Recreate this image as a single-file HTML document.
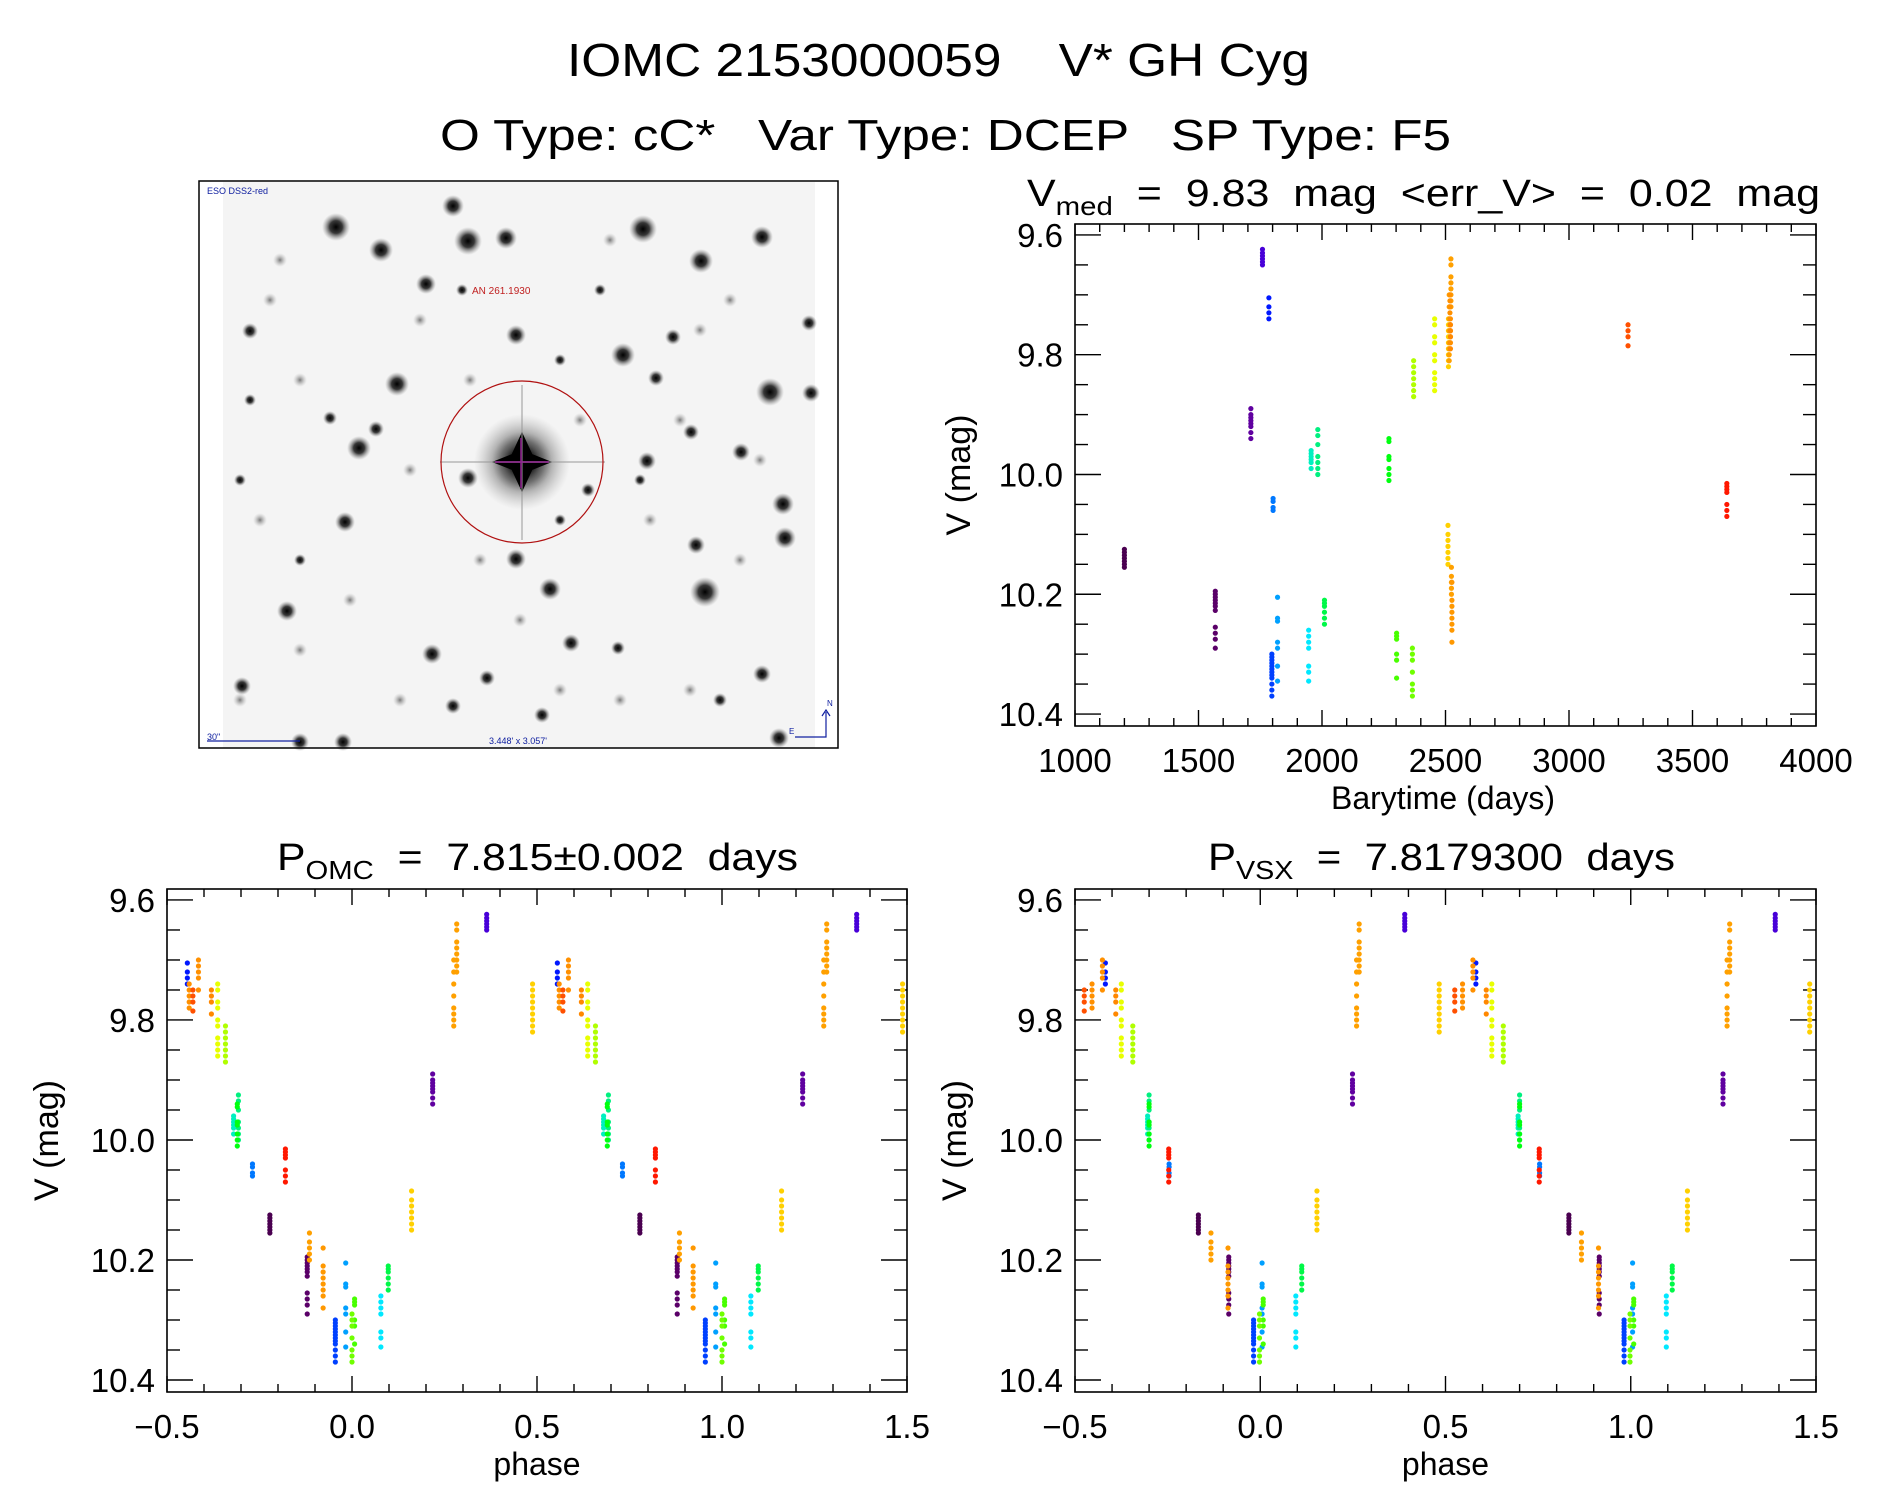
<!DOCTYPE html>
<html><head><meta charset="utf-8"><style>
html,body{margin:0;padding:0;background:#fff;}
svg{display:block;font-family:"Liberation Sans",sans-serif;}
text{white-space:pre;}
</style></head><body>
<svg id="fig" width="1889" height="1494" viewBox="0 0 1889 1494" xmlns="http://www.w3.org/2000/svg" xml:space="preserve">
<defs>
<radialGradient id="sg"><stop offset="0" stop-color="#000"/><stop offset="0.45" stop-color="#222" stop-opacity="0.9"/><stop offset="1" stop-color="#888" stop-opacity="0"/></radialGradient>
<radialGradient id="fg"><stop offset="0" stop-color="#777"/><stop offset="1" stop-color="#bbb" stop-opacity="0"/></radialGradient>
</defs>
<rect width="1889" height="1494" fill="#fff"/>
<text x="567" y="76" font-size="46" textLength="743" lengthAdjust="spacingAndGlyphs">IOMC 2153000059    V* GH Cyg</text>
<text x="440" y="150" font-size="44" textLength="1011" lengthAdjust="spacingAndGlyphs">O Type: cC*   Var Type: DCEP   SP Type: F5</text>

<g>
<rect x="223" y="182" width="592" height="566" fill="#f4f4f4"/>
<g id="stars"></g>
<rect x="199" y="181" width="639" height="567" fill="none" stroke="#000" stroke-width="1.5"/>
<ellipse cx="522" cy="462" rx="81" ry="81" fill="none" stroke="#b01010" stroke-width="1.2"/>
<line x1="495" y1="462" x2="549" y2="462" stroke="#902090" stroke-width="1.5"/>
<line x1="521" y1="438" x2="521" y2="488" stroke="#902090" stroke-width="1.5"/>
<text x="207" y="194" font-size="9" fill="#1020a0">ESO DSS2-red</text>
<text x="472" y="294" font-size="10" fill="#c02020">AN 261.1930</text>
<text x="207" y="740" font-size="9" fill="#1020a0">30"</text>
<line x1="207" y1="741" x2="300" y2="741" stroke="#1020a0" stroke-width="1.2"/>
<text x="489" y="744" font-size="9" fill="#1020a0">3.448' x 3.057'</text>
<path d="M795 737 H826 V712 M822 716 L826 710 L830 716" fill="none" stroke="#1020a0" stroke-width="1.2"/>
<text x="827" y="706" font-size="8" fill="#1020a0">N</text>
<text x="789" y="734" font-size="8" fill="#1020a0">E</text>
</g>

<g id="p1"></g>
<g id="p2"></g>
<g id="p3"></g>

<text x="1027" y="206" font-size="38" textLength="793" lengthAdjust="spacingAndGlyphs">V<tspan font-size="26" dy="9">med</tspan><tspan dy="-9">  =  9.83  mag  &lt;err_V&gt;  =  0.02  mag</tspan></text>
<text x="277" y="870" font-size="38" textLength="521" lengthAdjust="spacingAndGlyphs">P<tspan font-size="26" dy="9">OMC</tspan><tspan dy="-9">  =  7.815±0.002  days</tspan></text>
<text x="1208" y="870" font-size="38" textLength="467" lengthAdjust="spacingAndGlyphs">P<tspan font-size="26" dy="9">VSX</tspan><tspan dy="-9">  =  7.8179300  days</tspan></text>
</svg>
<script>
// ---------- data ----------
const groupTime   = [1200,1568,1712,1759,1785,1802,1797,1820,1946,1956,1983,2010,2271,2302,2366,2371,2456,2510,2512,2515,2522,2524,2526,2520,2518,2520,3239,3639];
const groupPhaseOMC = [-0.222,-0.121,0.218,0.364,-0.445,-0.269,-0.045,-0.017,0.078,-0.32,-0.307,0.098,-0.31,0.007,0.0,-0.342,-0.363,0.161,0.488,0.275,0.283,-0.115,-0.078,-0.44,-0.415,-0.38,-0.43,-0.18];
const groupPhaseVSX = [-0.167,-0.085,0.249,0.39,-0.418,-0.246,-0.018,0.005,0.096,-0.304,-0.3,0.112,-0.3,0.008,-0.002,-0.344,-0.375,0.153,0.483,0.26,0.267,-0.133,-0.087,-0.454,-0.426,-0.39,-0.475,-0.247];
const groupColor = ["#4a0050","#5a0068","#6000a0","#4800d8","#0018ff","#0078ff","#0040ff","#00a0ff","#00e8ff","#00f0c0","#00f080","#00f848","#00ff10","#48ff00","#70ff00","#b0ff00","#e8ff00","#ffd000","#ffd000","#ffa000","#ffa000","#ffa000","#ff9800","#ff9000","#ff9000","#ff8800","#ff5000","#ff1800"];
const groupMags = [
 [10.125,10.13,10.135,10.14,10.145,10.15,10.155],
 [10.195,10.2,10.205,10.21,10.215,10.22,10.227,10.255,10.265,10.275,10.29],
 [9.89,9.9,9.905,9.91,9.915,9.92,9.93,9.94],
 [9.624,9.63,9.635,9.64,9.645,9.65],
 [9.705,9.72,9.73,9.74],
 [10.04,10.045,10.055,10.06],
 [10.30,10.305,10.31,10.315,10.32,10.325,10.33,10.335,10.34,10.35,10.36,10.37],
 [10.205,10.24,10.245,10.28,10.29,10.32,10.345],
 [10.26,10.27,10.28,10.29,10.32,10.33,10.345],
 [9.96,9.965,9.97,9.975,9.98,9.99],
 [9.925,9.935,9.95,9.97,9.98,9.99,10.0],
 [10.21,10.215,10.22,10.23,10.24,10.25],
 [9.94,9.945,9.97,9.975,9.99,10.0,10.01],
 [10.265,10.27,10.275,10.3,10.31,10.34],
 [10.29,10.3,10.31,10.33,10.35,10.36,10.37],
 [9.81,9.82,9.83,9.84,9.85,9.86,9.87],
 [9.74,9.75,9.77,9.78,9.8,9.81,9.83,9.84,9.85,9.86],
 [10.085,10.1,10.11,10.12,10.13,10.14,10.15],
 [9.74,9.75,9.76,9.77,9.78,9.79,9.8,9.81,9.82],
 [9.7,9.72,9.74,9.76,9.78,9.79,9.8,9.81],
 [9.64,9.65,9.67,9.68,9.69,9.70,9.71,9.72],
 [10.155,10.17,10.18,10.19,10.2],
 [10.18,10.21,10.22,10.23,10.24,10.25,10.26,10.28],
 [9.74,9.75,9.76,9.77,9.78],
 [9.7,9.71,9.72,9.73,9.75],
 [9.75,9.76,9.77,9.79],
 [9.75,9.76,9.77,9.785],
 [10.015,10.02,10.025,10.03,10.05,10.06,10.07]
];
const magTicks = [9.6,9.8,10.0,10.2,10.4];
const magTickLabels = ["9.6","9.8","10.0","10.2","10.4"];
const timeTicks = [1000,1500,2000,2500,3000,3500,4000];
const timeTickLabels = ["1000","1500","2000","2500","3000","3500","4000"];
const phaseTicks = [-0.5,0,0.5,1,1.5];
const phaseTickLabels = ["\u22120.5","0.0","0.5","1.0","1.5"];

const NS="http://www.w3.org/2000/svg";
function mk(parent,tag,attrs){const e=document.createElementNS(NS,tag);for(const k in attrs)e.setAttribute(k,attrs[k]);parent.appendChild(e);return e;}

// star field
const stars=[[336,227,14],[468,241,14],[506,238,11],[381,250,12],[453,206,11],[643,229,14],[762,237,11],[701,261,12],[426,284,10],[516,335,10],[623,355,12],[397,384,12],[770,392,14],[811,393,9],[359,448,12],[376,429,8],[468,478,10],[647,461,9],[741,452,9],[783,504,11],[785,538,11],[345,522,10],[516,559,10],[550,589,11],[705,592,15],[696,545,9],[287,611,10],[432,654,10],[571,643,9],[762,674,9],[242,686,9],[453,706,8],[487,678,8],[542,715,8],[300,742,9],[343,742,9],[779,738,10],[673,337,8],[250,331,8],[330,418,7],[656,378,8],[618,648,7],[809,323,8],[588,490,7],[691,432,8],[462,290,6],[560,360,6],[240,480,6],[300,560,6],[720,700,7],[640,480,6],[250,400,6],[560,520,6],[600,290,6]];
const faint=[[270,300],[300,380],[420,320],[580,420],[700,330],[760,460],[300,650],[400,700],[620,700],[690,690],[260,520],[480,560],[650,520],[520,620],[350,600],[740,560],[610,240],[280,260],[410,470],[560,690],[730,300],[240,700],[470,380],[680,420]];
const sg=document.getElementById('stars');
for(const f of faint){const c=mk(sg,'circle',{cx:f[0],cy:f[1],r:7,fill:'url(#fg)'});

}
for(const s of stars){const c=mk(sg,'circle',{cx:s[0],cy:s[1],r:s[2],fill:'url(#sg)'});

}
mk(sg,'circle',{cx:522,cy:462,r:48,fill:'url(#sg)',opacity:0.6});
mk(sg,'circle',{cx:522,cy:462,r:30,fill:'url(#sg)'});
mk(sg,'path',{d:'M522 432 L536 462 L522 492 L508 462 Z M492 462 L522 450 L552 462 L522 474 Z',fill:'#000'});
mk(sg,'line',{x1:440,y1:462,x2:605,y2:462,stroke:'#999','stroke-width':2,opacity:0.5});
mk(sg,'line',{x1:522,y1:385,x2:522,y2:540,stroke:'#999','stroke-width':2,opacity:0.5});

function panel(gid,L,R,T,B,xmin,xmax,xTicks,xLabels,xMinorStep,xTitle,xTitleX,ylabX){
  const g=document.getElementById(gid);
  const ymin=9.5817,ymax=10.42;
  const sx=v=>L+(v-xmin)/(xmax-xmin)*(R-L);
  const sy=v=>T+(v-ymin)/(ymax-ymin)*(B-T);
  mk(g,'rect',{x:L,y:T,width:R-L,height:B-T,fill:'none',stroke:'#000','stroke-width':1.6});
  for(let v=xmin;v<=xmax+1e-9;v+=xMinorStep){
    const major=xTicks.some(t=>Math.abs(t-v)<1e-6);const len=major?16:8;const x=sx(v);
    mk(g,'line',{x1:x,y1:B,x2:x,y2:B-len,stroke:'#000','stroke-width':1.4});
    mk(g,'line',{x1:x,y1:T,x2:x,y2:T+len,stroke:'#000','stroke-width':1.4});
  }
  for(let v=9.6;v<=10.4001;v+=0.05){
    const major=magTicks.some(t=>Math.abs(t-v)<1e-6);const len=major?26:13;const y=sy(v);
    mk(g,'line',{x1:L,y1:y,x2:L+len,y2:y,stroke:'#000','stroke-width':1.4});
    mk(g,'line',{x1:R,y1:y,x2:R-len,y2:y,stroke:'#000','stroke-width':1.4});
  }
  xTicks.forEach((v,i)=>{const t=mk(g,'text',{x:sx(v),y:B+46,'font-size':33,'text-anchor':'middle'});t.textContent=xLabels[i];
    
    });
  magTicks.forEach((v,i)=>{const t=mk(g,'text',{x:L-12,y:sy(v)+12,'font-size':33,'text-anchor':'end'});t.textContent=magTickLabels[i];
    
    });
  const xt=mk(g,'text',{x:xTitleX,y:B+83,'font-size':32,'text-anchor':'middle'});xt.textContent=xTitle;
  
  
  const yc=(T+B)/2;
  const yt=mk(g,'text',{x:ylabX,y:yc,'font-size':34,'text-anchor':'middle',transform:`rotate(-90 ${ylabX} ${yc})`});yt.textContent='V (mag)';
  
  
  return {g,sx,sy};
}

const a=panel('p1',1075,1816,224,726,1000,4000,timeTicks,timeTickLabels,100,'Barytime (days)',1443,970);
groupTime.forEach((t,i)=>{groupMags[i].forEach(m=>{
  const c=mk(a.g,'circle',{cx:a.sx(t),cy:a.sy(m),r:2.6,fill:groupColor[i]});
  
  });});

function phasePanel(gid,L,R,phases,ylabX){
  const p=panel(gid,L,R,889,1392,-0.5,1.5,phaseTicks,phaseTickLabels,0.1,'phase',(L+R)/2,ylabX);
  phases.forEach((ph,i)=>{[ph,ph+1].forEach(x=>{if(x<-0.5||x>1.5)return;
    groupMags[i].forEach(m=>{const c=mk(p.g,'circle',{cx:p.sx(x),cy:p.sy(m),r:2.6,fill:groupColor[i]});
      
      });});});
}
phasePanel('p2',167,907,groupPhaseOMC,58);
phasePanel('p3',1075,1816,groupPhaseVSX,966);
</script>
</body></html>
